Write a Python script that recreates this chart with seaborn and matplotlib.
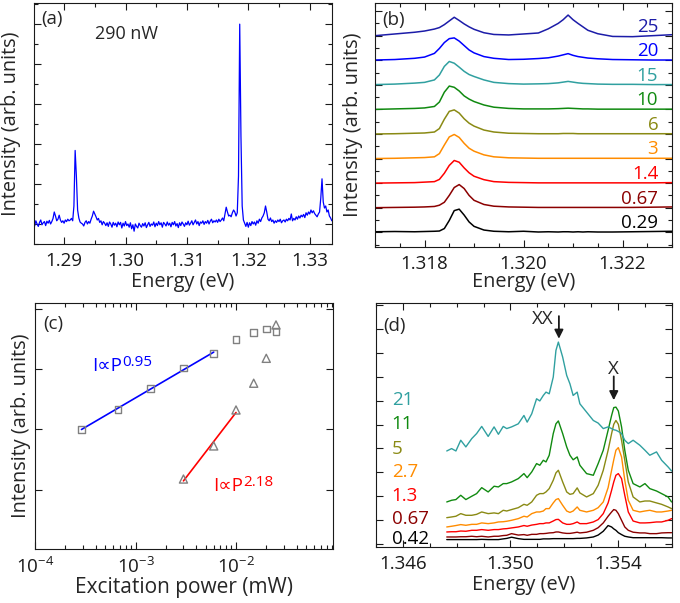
import numpy as np
import matplotlib
matplotlib.use("Agg")
import matplotlib.pyplot as plt
import seaborn as sns
from matplotlib.ticker import MultipleLocator, LogLocator, NullLocator, FixedLocator

sns.set_theme(style="ticks")
plt.rcParams['font.family'] = ['Open Sans', 'DejaVu Sans']
plt.rcParams['mathtext.fontset'] = 'custom'
plt.rcParams['mathtext.rm'] = 'Open Sans'
plt.rcParams['mathtext.it'] = 'Open Sans:italic'
plt.rcParams['mathtext.bf'] = 'Open Sans:bold'

FS = 13.5      # tick labels, annotations
FS_LAB = 14.3  # axis labels

######################################
## (a) single spectrum at 290 nW    ##
######################################
# sampled every 0.2 meV from 1.2850 eV
spec_a_start = 1.2850
spec_a_step = 0.0002
spec_a = [
    0.05, -0.05, 0.08, 0.00, -0.06, 0.04, 0.10, -0.02, 0.03, 0.06,
    -0.04, 0.07, 0.02, 0.09, 0.00, 0.06, 0.14, 0.30, 0.20, 0.08,
    0.12, 0.22, 0.10, 0.04, 0.08, 0.02, 0.10, 0.06, 0.12, 0.08,
    0.10, 0.14, 0.08, 0.45, 1.84, 1.20, 0.35, 0.15, 0.05, 0.02,
    0.00, -0.05, 0.04, 0.08, 0.00, 0.06, 0.02, 0.12, 0.20, 0.32,
    0.25, 0.18, 0.10, 0.14, 0.04, 0.08, -0.02, 0.06, 0.02, -0.04,
    0.03, -0.06, 0.05, 0.00, -0.08, 0.04, -0.03, 0.02, -0.07, 0.05,
    -0.02, 0.04, -0.10, 0.02, -0.05, 0.06, -0.04, 0.00, -0.08, 0.03,
    -0.12, -0.02, -0.18, 0.00, -0.06, -0.10, 0.02, -0.04, -0.08, 0.01,
    -0.05, 0.03, -0.09, -0.02, 0.04, -0.06, 0.00, -0.03, 0.05, -0.07,
    0.02, -0.04, 0.06, -0.02, 0.03, -0.08, 0.04, 0.00, -0.05, 0.05,
    -0.03, 0.02, -0.07, 0.04, -0.02, 0.06, -0.05, 0.01, -0.09, 0.03,
    -0.04, 0.05, 0.00, -0.06, 0.03, -0.02, 0.07, -0.03, 0.02, 0.08,
    -0.02, 0.04, 0.10, 0.00, 0.06, -0.04, 0.05, 0.02, 0.08, -0.01,
    0.06, 0.02, 0.09, 0.00, 0.07, 0.12, 0.03, 0.08, 0.05, 0.10,
    0.04, 0.12, 0.06, 0.10, 0.15, 0.08, 0.25, 0.42, 0.30, 0.20,
    0.22, 0.18, 0.28, 0.35, 0.30, 0.20, 0.28, 1.20, 5.00, 2.20,
    0.45, 0.10, 0.02, -0.06, 0.04, -0.08, 0.03, -0.04, 0.06, 0.00,
    0.05, -0.03, 0.08, 0.02, 0.12, 0.06, 0.15, 0.20, 0.28, 0.45,
    0.30, 0.12, 0.08, 0.15, 0.06, 0.10, 0.02, 0.08, 0.04, 0.10,
    0.06, 0.12, 0.03, 0.08, 0.10, 0.05, 0.12, 0.08, 0.14, 0.10,
    0.25, 0.08, 0.14, 0.10, 0.18, 0.12, 0.20, 0.15, 0.22, 0.18,
    0.24, 0.16, 0.28, 0.22, 0.30, 0.25, 0.35, 0.28, 0.33, 0.26,
    0.22, 0.18, 0.25, 0.30, 0.65, 1.13, 0.55, 0.40, 0.45, 0.30,
    0.35, 0.20, 0.15, 0.08,
]
energy_a = spec_a_start + spec_a_step * np.arange(len(spec_a))

######################################
## (b) power series, stacked        ##
######################################
energy_b = [1.3170, 1.3174, 1.3178, 1.3180, 1.3182, 1.3183, 1.3184, 1.3185,
            1.3186, 1.3187, 1.3188, 1.3189, 1.3190, 1.3192, 1.3194, 1.3197,
            1.3200, 1.3203, 1.3205, 1.3207, 1.3208, 1.3209, 1.3210, 1.3211,
            1.3212, 1.3213, 1.3215, 1.3218, 1.3222, 1.3226, 1.3230]
labels_b = ['0.29', '0.67', '1.4', '3', '6', '10', '15', '20', '25']
colors_b = ['#000000', '#8b0000', '#ff0000', '#ff8c00', '#8a8a14',
            '#108a10', '#30a0a0', '#0000ff', '#1c1ca8']
spec_b_029 = [0.02, 0.03, 0.02, 0.03, 0.04, 0.05, 0.15, 0.48, 0.88, 0.94, 0.70, 0.42, 0.24, 0.09, 0.04, 0.02,
              0.04, 0.01, 0.02, 0.01, 0.02, 0.02, 0.01, 0.02, 0.01, 0.02, 0.01, 0.01, 0.02, 0.03, 0.04]
spec_b_067 = [0.00, 0.01, 0.02, 0.03, 0.05, 0.10, 0.22, 0.50, 0.82, 0.94, 0.78, 0.50, 0.30, 0.13, 0.06, 0.03,
              0.02, 0.01, 0.01, 0.01, 0.01, 0.01, 0.01, 0.01, 0.01, 0.01, 0.01, 0.01, 0.01, 0.02, 0.03]
spec_b_14 = [0.00, 0.01, 0.02, 0.04, 0.06, 0.15, 0.40, 0.72, 0.92, 0.85, 0.62, 0.42, 0.28, 0.14, 0.06, 0.03,
             0.02, 0.01, 0.01, 0.01, 0.01, 0.01, 0.01, 0.01, 0.01, 0.01, 0.01, 0.01, 0.01, 0.01, 0.02]
spec_b_3 = [0.00, 0.01, 0.03, 0.04, 0.07, 0.20, 0.55, 0.88, 0.98, 0.86, 0.62, 0.42, 0.30, 0.15, 0.07, 0.03,
            0.02, 0.01, 0.01, 0.01, 0.01, 0.01, 0.01, 0.01, 0.01, 0.01, 0.01, 0.01, 0.01, 0.01, 0.01]
spec_b_6 = [0.00, 0.01, 0.03, 0.04, 0.08, 0.22, 0.60, 0.92, 0.98, 0.85, 0.62, 0.44, 0.32, 0.16, 0.08, 0.03,
            0.02, 0.01, 0.01, 0.01, 0.02, 0.02, 0.02, 0.01, 0.01, 0.01, 0.01, 0.01, 0.01, 0.01, 0.01]
spec_b_10 = [0.00, 0.02, 0.04, 0.06, 0.12, 0.30, 0.70, 0.95, 0.90, 0.75, 0.55, 0.42, 0.32, 0.18, 0.09, 0.04,
             0.02, 0.02, 0.02, 0.03, 0.04, 0.05, 0.04, 0.03, 0.02, 0.02, 0.01, 0.01, 0.01, 0.01, 0.01]
spec_b_15 = [0.01, 0.03, 0.07, 0.10, 0.20, 0.40, 0.75, 0.95, 0.88, 0.72, 0.55, 0.42, 0.34, 0.20, 0.10, 0.05,
             0.03, 0.04, 0.05, 0.08, 0.11, 0.14, 0.11, 0.08, 0.06, 0.05, 0.03, 0.02, 0.02, 0.01, 0.01]
spec_b_20 = [0.01, 0.03, 0.08, 0.13, 0.28, 0.48, 0.72, 0.88, 0.91, 0.78, 0.60, 0.42, 0.30, 0.15, 0.08, 0.03,
             0.04, 0.07, 0.10, 0.17, 0.22, 0.27, 0.20, 0.15, 0.12, 0.09, 0.06, 0.03, 0.02, 0.01, 0.01]
spec_b_25 = [0.00, 0.07, 0.14, 0.19, 0.27, 0.33, 0.45, 0.60, 0.75, 0.62, 0.48, 0.36, 0.26, 0.12, 0.05, 0.03,
             0.07, 0.11, 0.28, 0.50, 0.65, 0.84, 0.65, 0.50, 0.36, 0.22, 0.08, -0.03, -0.04, 0.00, 0.04]
spectra_b = [spec_b_029, spec_b_067, spec_b_14, spec_b_3, spec_b_6,
             spec_b_10, spec_b_15, spec_b_20, spec_b_25]

######################################
## (c) integrated intensity vs P    ##
######################################
power_x = [2.9e-4, 6.7e-4, 1.4e-3, 3e-3, 6e-3, 1e-2, 1.5e-2, 2e-2, 2.5e-2]
intensity_x = [1.0e3, 2.14e3, 4.7e3, 1.04e4, 1.8e4, 3.06e4, 4.05e4, 4.6e4, 4.16e4]
power_xx = [3e-3, 6e-3, 1e-2, 1.5e-2, 2e-2, 2.5e-2]
intensity_xx = [150, 530, 2.09e3, 5.8e3, 1.5e4, 5.36e4]
n_fit_x = 5
n_fit_xx = 3

######################################
## (d) second dot, power series     ##
######################################
energy_d = [1.34763, 1.34781, 1.34797, 1.34815, 1.34834, 1.34856, 1.34874, 1.34893,
            1.34917, 1.34939, 1.34955, 1.34973, 1.34986, 1.35004, 1.35029, 1.35050,
            1.35062, 1.35079, 1.35097, 1.35109, 1.35122, 1.35132, 1.35144, 1.35159,
            1.35169, 1.35178, 1.35194, 1.35209, 1.35221, 1.35233, 1.35248, 1.35258,
            1.35283, 1.35308, 1.35326, 1.35345, 1.35363, 1.35376, 1.35384, 1.35392,
            1.35401, 1.35413, 1.35425, 1.35438, 1.35456, 1.35481, 1.35500, 1.35518,
            1.35543, 1.35562, 1.35586, 1.35599]
labels_d = ['0.42', '0.67', '1.3', '2.7', '5', '11', '21']
colors_d = ['#000000', '#8b0000', '#ff0000', '#ff8c00', '#8a8a14', '#108a10', '#30a0a0']
spec_d_042 = [0.17, 0.17, 0.17, 0.17, 0.17, 0.17, 0.17, 0.18, 0.17, 0.17,
              0.17, 0.20, 0.22, 0.27, 0.21, 0.18, 0.18, 0.18, 0.18, 0.18,
              0.20, 0.20, 0.20, 0.21, 0.21, 0.21, 0.21, 0.21, 0.21, 0.21,
              0.22, 0.22, 0.24, 0.28, 0.36, 0.52, 0.76, 0.70, 0.62, 0.56,
              0.46, 0.38, 0.31, 0.28, 0.25, 0.25, 0.25, 0.25, 0.25, 0.25,
              0.24, 0.24]
spec_d_067 = [0.28, 0.28, 0.28, 0.29, 0.29, 0.31, 0.29, 0.31, 0.28, 0.31,
              0.31, 0.34, 0.35, 0.42, 0.36, 0.38, 0.35, 0.39, 0.39, 0.42,
              0.42, 0.43, 0.45, 0.46, 0.49, 0.49, 0.45, 0.43, 0.43, 0.45,
              0.48, 0.45, 0.48, 0.56, 0.67, 0.87, 1.15, 1.33, 1.43, 1.40,
              1.26, 0.98, 0.70, 0.56, 0.48, 0.45, 0.45, 0.42, 0.42, 0.45,
              0.46, 0.46]
spec_d_13 = [0.49, 0.50, 0.50, 0.53, 0.52, 0.56, 0.56, 0.59, 0.56, 0.59,
             0.59, 0.62, 0.63, 0.66, 0.70, 0.76, 0.73, 0.78, 0.81, 0.84,
             0.84, 0.87, 0.87, 0.95, 1.01, 1.02, 0.87, 0.81, 0.81, 0.84,
             0.91, 0.84, 0.84, 0.91, 1.01, 1.26, 1.71, 2.24, 2.59, 2.87,
             2.94, 2.73, 2.03, 1.33, 0.95, 0.87, 0.87, 0.88, 0.91, 0.91,
             0.98, 1.05]
spec_d_27 = [0.70, 0.73, 0.76, 0.80, 0.77, 0.81, 0.81, 0.87, 0.84, 0.87,
             0.91, 0.92, 0.94, 0.98, 1.05, 1.15, 1.12, 1.26, 1.33, 1.33,
             1.37, 1.47, 1.47, 1.71, 1.85, 1.89, 1.61, 1.37, 1.31, 1.37,
             1.54, 1.40, 1.33, 1.40, 1.51, 1.75, 2.35, 3.08, 3.52, 3.92,
             4.03, 3.64, 2.66, 1.82, 1.40, 1.33, 1.37, 1.40, 1.33, 1.33,
             1.37, 1.40]
spec_d_5 = [1.09, 1.12, 1.15, 1.26, 1.19, 1.19, 1.23, 1.33, 1.26, 1.29,
            1.26, 1.40, 1.37, 1.43, 1.51, 1.65, 1.61, 1.75, 2.03, 2.10,
            2.10, 2.17, 2.31, 2.66, 2.97, 3.08, 2.59, 2.17, 2.07, 2.10,
            2.34, 2.13, 1.96, 2.10, 2.45, 3.08, 3.92, 4.62, 5.01, 5.17,
            5.01, 4.34, 3.50, 2.59, 1.96, 1.75, 1.79, 1.79, 1.71, 1.65,
            1.54, 1.47]
spec_d_11 = [1.75, 1.82, 1.85, 2.03, 1.85, 1.99, 2.10, 2.35, 2.17, 2.41,
             2.38, 2.52, 2.52, 2.59, 2.73, 2.94, 2.77, 3.01, 3.36, 3.29,
             3.50, 3.43, 3.71, 4.62, 5.03, 5.15, 4.62, 4.06, 3.71, 3.52,
             3.64, 3.29, 2.94, 2.87, 3.36, 3.92, 4.76, 5.38, 5.71, 5.73,
             5.57, 4.90, 3.92, 3.08, 2.52, 2.38, 2.52, 2.31, 2.21, 2.10,
             1.96, 1.75]
spec_d_21 = [3.89, 3.99, 3.89, 4.34, 4.06, 4.41, 4.62, 4.92, 4.50, 4.90,
             4.59, 4.92, 4.83, 4.90, 5.03, 5.38, 5.10, 5.45, 6.08, 5.99,
             6.22, 6.36, 6.29, 6.99, 8.11, 8.46, 7.83, 7.06, 6.71, 6.22,
             6.36, 5.87, 5.52, 5.17, 5.06, 4.83, 4.90, 4.83, 4.78, 4.76,
             4.71, 4.62, 4.34, 4.20, 4.34, 4.13, 3.92, 3.71, 3.85, 3.50,
             3.22, 3.05]
spectra_d = [spec_d_042, spec_d_067, spec_d_13, spec_d_27, spec_d_5, spec_d_11, spec_d_21]
label_y_d = [0.21, 1.05, 1.99, 3.01, 3.99, 5.01, 6.04]
ticks_d = [1.346, 1.350, 1.354]


def style_axes(ax):
    ax.tick_params(which='both', direction='in', top=True, right=True,
                   width=0.8, colors='k', labelsize=FS, pad=6)
    ax.tick_params(which='major', length=5)
    ax.tick_params(which='minor', length=3)
    ax.tick_params(axis='y', labelleft=False)
    for s in ax.spines.values():
        s.set_linewidth(0.8)
        s.set_color('k')


fig = plt.figure(figsize=(6.8, 6.03), dpi=100)
ax_a = fig.add_axes([0.050, 0.5954, 0.438, 0.3997])
ax_b = fig.add_axes([0.5515, 0.5904, 0.4368, 0.4046])
ax_c = fig.add_axes([0.0515, 0.0896, 0.438, 0.408])
ax_d = fig.add_axes([0.553, 0.0929, 0.435, 0.4046])

# (a)
sns.lineplot(x=energy_a, y=spec_a, ax=ax_a, color='#0000ff', linewidth=0.9,
             estimator=None, sort=False)
ax_a.set_xlim(1.2851, 1.3336)
ax_a.set_ylim(-0.5, 5.53)
ax_a.xaxis.set_major_locator(MultipleLocator(0.01))
ax_a.xaxis.set_minor_locator(MultipleLocator(0.005))
ax_a.yaxis.set_major_locator(MultipleLocator(1))
ax_a.yaxis.set_minor_locator(MultipleLocator(0.5))
ax_a.xaxis.set_major_formatter(plt.FuncFormatter(lambda v, p: f"{v:.2f}"))
style_axes(ax_a)
ax_a.set_xlabel('Energy (eV)', fontsize=FS_LAB, labelpad=1.0)
ax_a.set_ylabel('Intensity (arb. units)', fontsize=FS_LAB, labelpad=3)
ax_a.text(0.026, 0.934, '(a)', transform=ax_a.transAxes, fontsize=FS, va='center', ha='left')
ax_a.text(0.205, 0.871, '290 nW', transform=ax_a.transAxes, fontsize=FS - 0.5, va='center', ha='left')

# (b)
for i, (spec, col, lab) in enumerate(zip(spectra_b, colors_b, labels_b)):
    sns.lineplot(x=energy_b, y=np.array(spec) + i, ax=ax_b, color=col,
                 linewidth=1.1, estimator=None, sort=False)
    ax_b.text(1.32272, i + 0.37, lab, color=col, fontsize=FS, ha='right', va='center')
ax_b.set_xlim(1.317, 1.323)
ax_b.set_ylim(-0.6, 9.33)
ax_b.xaxis.set_major_locator(MultipleLocator(0.002))
ax_b.xaxis.set_minor_locator(MultipleLocator(0.0005))
ax_b.yaxis.set_major_locator(MultipleLocator(1))
ax_b.yaxis.set_minor_locator(MultipleLocator(0.5))
ax_b.xaxis.set_major_formatter(plt.FuncFormatter(lambda v, p: f"{v:.3f}"))
style_axes(ax_b)
ax_b.set_xlabel('Energy (eV)', fontsize=FS_LAB, labelpad=-1.0)
ax_b.set_ylabel('Intensity (arb. units)', fontsize=FS_LAB, labelpad=3)
ax_b.text(0.026, 0.93, '(b)', transform=ax_b.transAxes, fontsize=FS, va='center', ha='left')

# (c)
ax_c.set_xscale('log')
ax_c.set_yscale('log')
sns.scatterplot(x=power_x, y=intensity_x, ax=ax_c, marker='s', s=24,
                facecolors='none', edgecolor='#808080', linewidth=1.0, zorder=3)
sns.scatterplot(x=power_xx, y=intensity_xx, ax=ax_c, marker='^', s=34,
                facecolors='none', edgecolor='#808080', linewidth=1.0, zorder=3)
fit_x = np.polyfit(np.log10(power_x[:n_fit_x]), np.log10(intensity_x[:n_fit_x]), 1)
fit_xx = np.polyfit(np.log10(power_xx[:n_fit_xx]), np.log10(intensity_xx[:n_fit_xx]), 1)
px_ends = np.array([power_x[0], power_x[n_fit_x - 1]])
pxx_ends = np.array([power_xx[0], power_xx[n_fit_xx - 1]])
sns.lineplot(x=px_ends, y=10 ** np.polyval(fit_x, np.log10(px_ends)), ax=ax_c,
             color='#0000ff', linewidth=1.2, zorder=2)
sns.lineplot(x=pxx_ends, y=10 ** np.polyval(fit_xx, np.log10(pxx_ends)), ax=ax_c,
             color='#ff0000', linewidth=1.2, zorder=2)
ax_c.set_xlim(1e-4, 0.092)
ax_c.set_ylim(10.4, 1.24e5)
ax_c.xaxis.set_major_locator(LogLocator(base=10, numticks=10))
ax_c.xaxis.set_minor_locator(LogLocator(base=10, subs=np.arange(2, 10), numticks=10))
ax_c.yaxis.set_major_locator(LogLocator(base=10, numticks=10))
ax_c.yaxis.set_minor_locator(NullLocator())
style_axes(ax_c)
ax_c.set_xlabel('Excitation power (mW)', fontsize=15.0, labelpad=-0.5)
ax_c.set_ylabel('Intensity (arb. units)', fontsize=FS_LAB, labelpad=3)
ax_c.text(0.026, 0.915, '(c)', transform=ax_c.transAxes, fontsize=FS, va='center', ha='left')
t1 = ax_c.text(3.69e-4, 1.13e4, 'I\u221dP', color='#0000ff', fontsize=FS, va='center', ha='left')
ax_c.annotate('0.95', xy=(1.0, 0.95), xycoords=t1, color='#0000ff', fontsize=FS - 2.5,
              ha='left', va='top', xytext=(0.5, 2), textcoords='offset points')
t2 = ax_c.text(5.9e-3, 116, 'I\u221dP', color='#ff0000', fontsize=FS, va='center', ha='left')
ax_c.annotate('2.18', xy=(1.0, 0.95), xycoords=t2, color='#ff0000', fontsize=FS - 2.5,
              ha='left', va='top', xytext=(0.5, 2), textcoords='offset points')

# (d)
for spec, col, lab, ly in zip(spectra_d, colors_d, labels_d, label_y_d):
    sns.lineplot(x=energy_d, y=spec, ax=ax_d, color=col, linewidth=1.0,
                 estimator=None, sort=False)
    ax_d.text(1.34558, ly, lab, color=col, fontsize=FS, ha='left', va='center')
ax_d.set_xlim(1.345, 1.356)
ax_d.set_ylim(-0.14, 10.1)
ax_d.xaxis.set_major_locator(FixedLocator(ticks_d))
ax_d.xaxis.set_minor_locator(MultipleLocator(0.001))
ax_d.yaxis.set_major_locator(MultipleLocator(1))
ax_d.yaxis.set_minor_locator(NullLocator())
ax_d.xaxis.set_major_formatter(plt.FuncFormatter(lambda v, p: f"{v:.3f}"))
style_axes(ax_d)
ax_d.set_xlabel('Energy (eV)', fontsize=FS_LAB, labelpad=1.5)
ax_d.text(0.026, 0.905, '(d)', transform=ax_d.transAxes, fontsize=FS, va='center', ha='left')
arrow = dict(arrowstyle='-|>', color='k', lw=1.3, mutation_scale=13, shrinkA=0, shrinkB=0)
ax_d.annotate('', xy=(1.3518, 8.60), xytext=(1.3518, 9.55), arrowprops=arrow)
ax_d.text(1.35160, 9.42, 'XX', fontsize=FS, ha='right', va='center')
ax_d.annotate('', xy=(1.35384, 6.02), xytext=(1.35384, 7.02), arrowprops=arrow)
ax_d.text(1.35382, 7.32, 'X', fontsize=FS, ha='center', va='center')

fig.savefig('out.png', dpi=100)
